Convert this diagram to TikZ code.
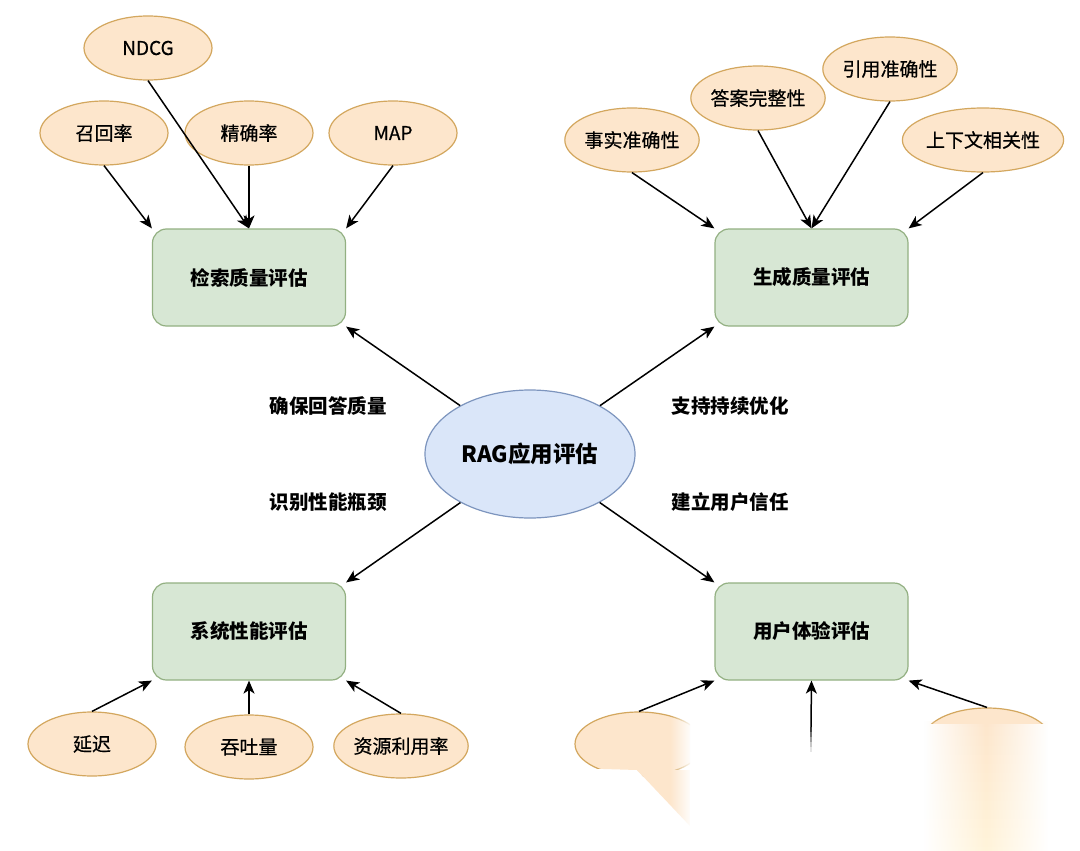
\documentclass[tikz,border=0pt]{standalone}
\usepackage{fontspec}
\setmainfont{Noto Sans CJK SC}
\usetikzlibrary{arrows.meta,shapes.geometric,fadings}
\definecolor{ofill}{HTML}{FDE6CC}
\definecolor{ostroke}{HTML}{D3A75E}
\definecolor{gfill}{HTML}{D7E7D4}
\definecolor{gstroke}{HTML}{93B082}
\definecolor{bfill}{HTML}{DAE6F9}
\definecolor{bstroke}{HTML}{7D95BE}
\definecolor{stripbot}{HTML}{FFF4DA}
\tikzfading[name=toright, left color=transparent!100, right color=transparent!0]
\tikzfading[name=hstrip, left color=transparent!100, right color=transparent!100, middle color=transparent!0]
\begin{document}
\begin{tikzpicture}[x=1pt,y=-1pt,
  leaf/.style={ellipse, draw=ostroke, fill=ofill, line width=1.2pt, minimum width=128pt, minimum height=64pt, inner sep=0pt, font=\addfontfeatures{FakeBold=0.5}\fontsize{19}{19}\selectfont},
  box/.style={rectangle, rounded corners=14pt, draw=gstroke, fill=gfill, line width=1.2pt, minimum width=193pt, minimum height=97pt, inner sep=0pt, font=\bfseries\fontsize{19.5}{19.5}\selectfont},
  hub/.style={ellipse, draw=bstroke, fill=bfill, line width=1.2pt, minimum width=210pt, minimum height=128pt, inner sep=0pt, font=\bfseries\fontsize{22.5}{22.5}\selectfont},
  lbl/.style={inner sep=0pt, font=\bfseries\fontsize{19.5}{19.5}\selectfont},
  arr/.style={-{Stealth[length=13pt,width=11pt,inset=3.5pt]}, line width=1.5pt, black}]
\fill[white] (0,0) rectangle (1080,851);
\useasboundingbox (0,0) rectangle (1080,851);

% hub and boxes
\node[hub] (rag) at (530,454) {RAG应用评估};
\node[box] (ret) at (249,277.5) {检索质量评估};
\node[box] (gen) at (811.5,277.5) {生成质量评估};
\node[box] (sys) at (249,631.5) {系统性能评估};
\node[box] (ux) at (811.5,631.5) {用户体验评估};

% leaves top-left
\node[leaf] (ndcg) at (148,48) {NDCG};
\node[leaf] (recall) at (104,133) {召回率};
\node[leaf] (prec) at (249,133) {精确率};
\node[leaf] (map) at (393,133) {MAP};
% leaves top-right
\node[leaf] (fact) at (632,140) {事实准确性};
\node[leaf] (comp) at (758,98) {答案完整性};
\node[leaf] (cite) at (890,69) {引用准确性};
\node[leaf] (ctx) at (983,140) {上下文相关性};
% leaves bottom-left
\node[leaf] (lat) at (92,744) {延迟};
\node[leaf] (thr) at (249,747) {吞吐量};
\node[leaf] (res) at (401,746) {资源利用率};

% bottom-right, partly faded
\begin{scope}
  \clip (570,700) -- (690,700) -- (690,826) -- (637,770) -- (570,768) -- cycle;
  \node[leaf] (uxa) at (639,744) {};
  \fill[ofill] (637,770) -- (690,770) -- (690,826) -- cycle;
\end{scope}
\fill[white, path fading=toright] (670,706) rectangle (692,845);
\fill[white] (692,706) rectangle (700,845);

\begin{scope}
  \clip (926,700) rectangle (1046,723);
  \node[leaf] (uxc) at (987,740) {};
\end{scope}
\shade[top color=ofill, bottom color=stripbot, path fading=hstrip] (924,722) rectangle (1048,851);

\coordinate (uxb) at (811,727);
\foreach \i/\o in {0/0.75,1/0.55,2/0.38,3/0.22,4/0.1}
  \draw[line width=1.5pt, black, opacity=\o] (811,727+5*\i) -- (811,732+5*\i);

% edge labels
\node[lbl] (t1) at (328,406) {确保回答质量};
\node[lbl] (t2) at (730,406) {支持持续优化};
\node[lbl] (t3) at (328,502) {识别性能瓶颈};
\node[lbl] (t4) at (730,502) {建立用户信任};

% connectors
\draw[arr] (rag) -- (ret.south east);
\draw[arr] (rag) -- (gen.south west);
\draw[arr] (rag) -- (sys.north east);
\draw[arr] (rag) -- (ux.north west);

\draw[arr] (recall.south) -- (ret.north west);
\draw[arr] (ndcg.south) -- (ret.north);
\draw[arr] (prec.south) -- (ret.north);
\draw[arr] (map.south) -- (ret.north east);

\draw[arr] (fact.south) -- (gen.north west);
\draw[arr] (comp.south) -- (gen.north);
\draw[arr] (cite.south) -- (gen.north);
\draw[arr] (ctx.south) -- (gen.north east);

\draw[arr] (lat.north) -- (sys.south west);
\draw[arr] (thr.north) -- (sys.south);
\draw[arr] (res.north) -- (sys.south east);

\draw[arr] (uxa.north) -- (ux.south west);
\draw[arr] (uxb) -- (ux.south);
\draw[arr] (uxc.north) -- (ux.south east);
\end{tikzpicture}
\end{document}
